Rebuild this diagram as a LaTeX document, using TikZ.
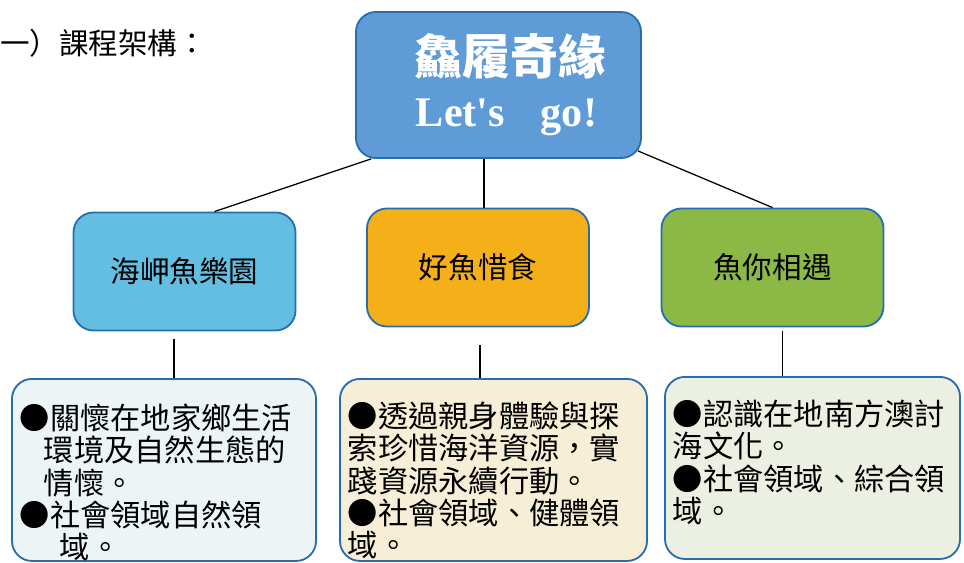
\documentclass[tikz,border=0pt]{standalone}
\usepackage{fontspec}
\setmainfont{Noto Sans CJK TC}
\newfontfamily\lets{Liberation Serif}
\definecolor{bord}{HTML}{286EAF}
\definecolor{bleuhaut}{HTML}{5F9BD7}
\definecolor{bleuclair}{HTML}{64BEE1}
\definecolor{orange}{HTML}{F5AF19}
\definecolor{vert}{HTML}{8CB946}
\definecolor{fondg}{HTML}{ECF4F6}
\definecolor{fondm}{HTML}{F6EED6}
\definecolor{fondd}{HTML}{ECF0E2}
\begin{document}
\begin{tikzpicture}[x=0.025cm, y=-0.025cm]
	\tikzset{boite/.style={rounded corners=0.5cm, draw=bord, line width=1.3pt, minimum width=5.55cm, minimum height=2.95cm, font=\fontsize{21}{24}\selectfont},
	bas/.style={rounded corners=0.5cm, draw=bord, line width=1.3pt, inner xsep=0.2cm, inner ysep=0.025cm, align=left, anchor=north, font=\fontsize{21.5}{23}\selectfont},
	lien/.style={line width=0.9pt}};

	\useasboundingbox (0,0) rectangle (964,563);

	\node[anchor=west, inner sep=0pt, font=\fontsize{21}{24}\selectfont] (titre) at (0,43) {一）課程架構：};

	\node[boite, fill=bleuhaut, minimum width=7.125cm, minimum height=3.65cm, align=center, text=white] (haut) at (498.5,85)
	{{\bfseries\fontsize{34}{40}\selectfont\hspace*{0.6cm}鱻履奇緣}\\[13pt]
	{\lets\bfseries\fontsize{30}{34}\selectfont\hspace*{0.4cm}Let's\hspace{0.9cm}go!}};

	\foreach \nom/\x/\y/\couleur/\texte in {g/184.5/271.5/bleuclair/海岬魚樂園, m/478/267.5/orange/好魚惜食, d/772.5/267.5/vert/魚你相遇}{
		\node[boite, fill=\couleur] (\nom) at (\x,\y) {\texte};
	}

	\node[bas, fill=fondg] (bg) at (164,378) {\parbox[c][4.5cm][t]{7.2cm}{\vspace*{0.6cm}%
	●關懷在地家鄉生活\\
	\hspace*{0.6cm}環境及自然生態的\\
	\hspace*{0.6cm}情懷。\\
	●社會領域自然領\\
	\hspace*{1cm}域。}};
	\node[bas, fill=fondm] (bm) at (493.5,378) {\parbox[c][4.5cm][t]{7.275cm}{\vspace*{0.55cm}%
	●透過親身體驗與探\\
	索珍惜海洋資源，實\\
	踐資源永續行動。\\
	●社會領域、健體領\\
	域。}};
	\node[bas, fill=fondd] (bd) at (812.5,376) {\parbox[c][4.5cm][t]{6.975cm}{\vspace*{0.55cm}%
	●認識在地南方澳討\\
	海文化。\\
	●社會領域、綜合領\\
	域。}};

	\draw[lien] ([xshift=0.4cm]haut.south west) -- ([xshift=0.75cm]g.north);
	\draw[lien] ([xshift=0.15cm]m.north) -- ([xshift=0.15cm]m.north |- haut.south);
	\draw[lien] ([shift={(-0.1cm,0.2cm)}]haut.south east) -- (d.north);

	\foreach \a/\b/\dx/\ecart in {g/bg/-0.26/0.18, m/bm/0.05/0.45, d/bd/0.25/0.08}{
		\draw[lien] ([shift={(\dx cm,-\ecart cm)}]\a.south) -- ([xshift=\dx cm]\a.south |- \b.north);
	}

\end{tikzpicture}
\end{document}
